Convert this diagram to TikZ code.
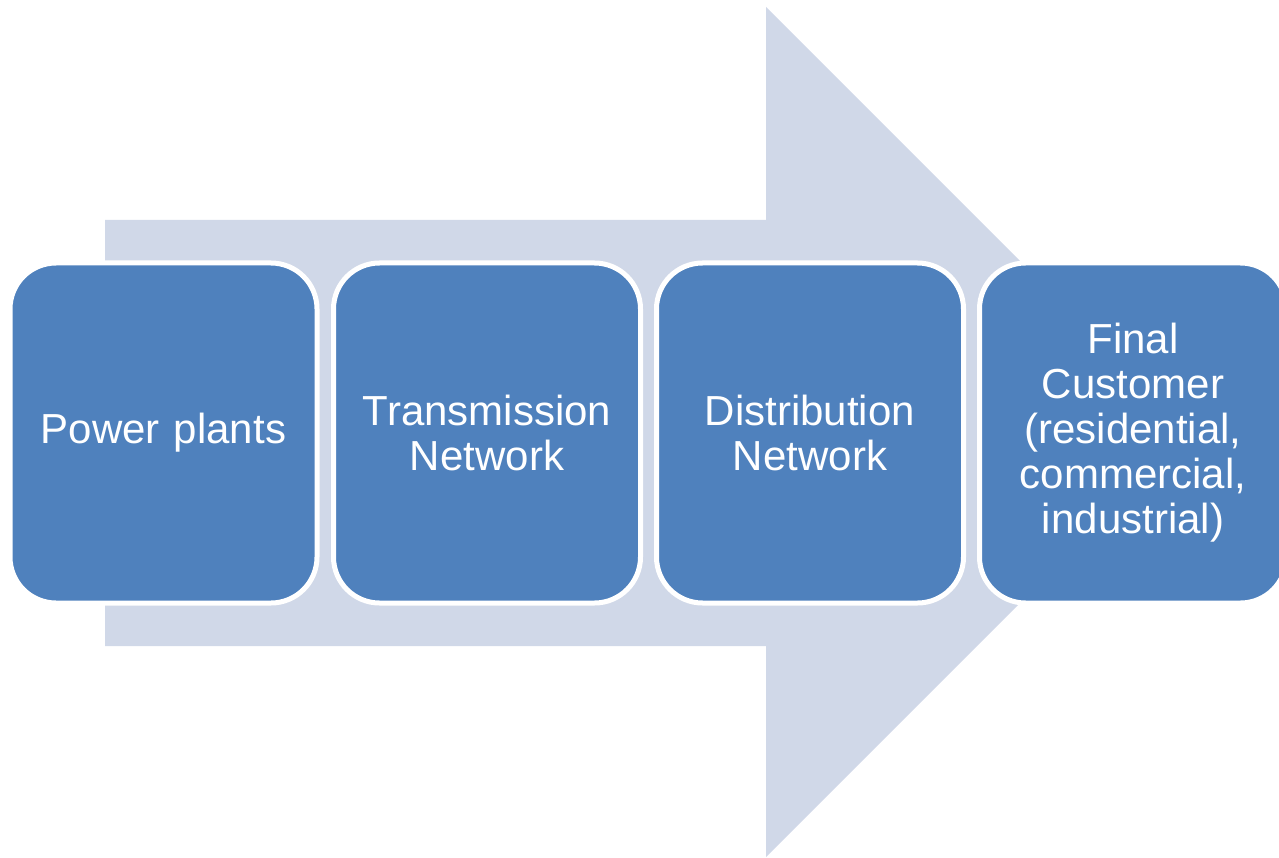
\documentclass[tikz,border=0pt]{standalone}
\usepackage{fontspec}
\setmainfont{Liberation Sans}
\definecolor{arrowfill}{HTML}{D0D8E8}
\definecolor{boxfill}{HTML}{4F81BD}
\begin{document}
\begin{tikzpicture}[x=1pt,y=-1pt,
  stagebox/.style={draw=white, line width=5pt, fill=boxfill, rounded corners=46pt,
    minimum width=307pt, minimum height=340pt, inner sep=0pt, text=white,
    align=center, text width=290pt, font=\fontsize{42}{45}\selectfont}]
\useasboundingbox (0,0) rectangle (1279,858);
% broad background arrow
\fill[arrowfill] (105,220) -- (766,220) -- (766,7) -- (1191,432) -- (766,857)
  -- (766,646) -- (105,646) -- cycle;
% process stages
\node[stagebox] (plants) at (163.5,433) {Power plants};
\node[stagebox] (trans) at (487,433) {Transmission\\Network};
\node[stagebox] (dist) at (810,433) {Distribution\\Network};
\node[stagebox] (cust) at (1133,433) {Final\\Customer\\(residential,\\commercial,\\industrial)};
\end{tikzpicture}
\end{document}
